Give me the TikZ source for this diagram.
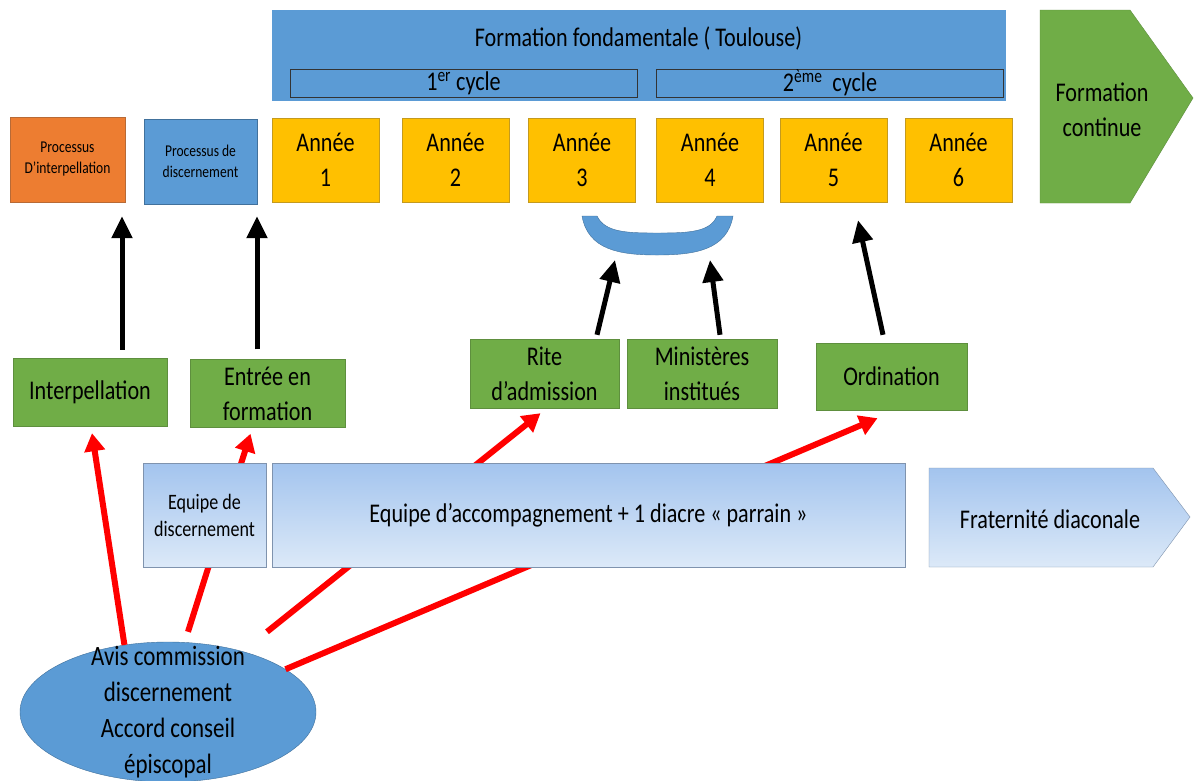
\documentclass[tikz,border=0pt]{standalone}
\usepackage{fontspec}
\setmainfont{Carlito}[FakeStretch=0.82]
\usetikzlibrary{shapes.geometric,arrows.meta,calc}
\definecolor{bleu}{HTML}{5B9BD5}
\definecolor{bleuBord}{HTML}{41719C}
\definecolor{oranj}{HTML}{ED7D31}
\definecolor{oranjBord}{HTML}{B86A36}
\definecolor{jaune}{HTML}{FFC000}
\definecolor{jauneBord}{HTML}{C49A1E}
\definecolor{vert}{HTML}{70AD47}
\definecolor{vertBord}{HTML}{5E8F3E}
\definecolor{ciel}{HTML}{A3C4EE}
\definecolor{cielClair}{HTML}{DCE9F8}
\definecolor{cielBord}{HTML}{7F93AE}
\definecolor{rouge}{HTML}{FF0000}

\begin{document}
\begin{tikzpicture}[x=1pt,y=-1pt]
  \tikzstyle{every node}+=[inner sep=0pt, align=center, font=\fontsize{27}{35}\selectfont]
  \tikzstyle{annee}=[draw=jauneBord, fill=jaune, minimum width=107pt, minimum height=84pt]
  \tikzstyle{vertbox}=[draw=vertBord, fill=vert, minimum height=68pt]
  \tikzstyle{cycle}=[draw=black!80, fill=bleu, minimum width=347pt, minimum height=28pt]
  \tikzstyle{equipe}=[draw=cielBord, top color=ciel, bottom color=cielClair]
  \tikzstyle{noire}=[line width=5pt, -{Triangle[length=22pt,width=20pt]}]
  \tikzstyle{rougeflèche}=[draw=rouge, line width=6pt, -{Triangle[length=18pt,width=20pt]}]
  \useasboundingbox (0,0) rectangle (1194,780);
  \fill[white] (0,0) rectangle (1194,780);

  % formation fondamentale
  \node[draw=bleu, fill=bleu, minimum width=733pt, minimum height=90pt] (fonda) at (638.5,55) {};
  \node (fondatxt) at (638.5,38) {Formation fondamentale ( Toulouse)};
  \node[cycle] (cyc1) at (463.5,83) {1\textsuperscript{er} cycle};
  \node[cycle] (cyc2) at (830,83) {2\textsuperscript{ème}\ \ cycle};

  % processus
  \node[draw=oranjBord, fill=oranj, minimum width=115pt, minimum height=85pt,
        font=\fontsize{16.5}{21}\selectfont] (procint) at (67.5,159.5) {Processus\\D'interpellation};
  \node[draw=bleuBord, fill=bleu, minimum width=113pt, minimum height=85pt,
        font=\fontsize{16.5}{21}\selectfont] (procdis) at (200.5,161.5) {Processus de\\discernement};

  % annees
  \node[annee] (an1) at (325.5,160) {Année\\1};
  \node[annee] (an2) at (455.5,160) {Année\\2};
  \node[annee] (an3) at (582,160) {Année\\3};
  \node[annee] (an4) at (710,160) {Année\\4};
  \node[annee] (an5) at (833.5,160) {Année\\5};
  \node[annee] (an6) at (958.5,160) {Année\\6};

  % formation continue
  \filldraw[fill=vert, draw=vertBord] (1040,10) -- (1130,10) -- (1193,98) -- (1130,203) -- (1040,203) -- cycle;
  \node (fcont) at (1102,110) {Formation\\continue};

  % accolade
  \filldraw[fill=bleu, draw=bleuBord] (582,216) .. controls (588,250) and (620,255) .. (657,255)
    .. controls (695,255) and (727,250) .. (733,216) -- (717,216)
    .. controls (710,232) and (690,233) .. (657,233)
    .. controls (625,233) and (605,232) .. (597,216) -- cycle;
  \coordinate (accolade) at (657,255);

  % etapes
  \node[vertbox, minimum width=154pt] (interp) at (90,392) {Interpellation};
  \node[vertbox, minimum width=155pt] (entree) at (267.5,393.5) {Entrée en\\formation};
  \node[vertbox, minimum width=149pt, minimum height=69pt] (rite) at (544.5,373.5) {Rite\\d'admission};
  \node[vertbox, minimum width=150pt, minimum height=69pt] (minis) at (702,373.5) {Ministères\\institués};
  \node[vertbox, minimum width=151pt, minimum height=67pt] (ordin) at (891.5,376.5) {Ordination};

  \draw[noire] ($(interp.north)+(32,-8)$) -- ($(procint.south)+(54.5,14)$);
  \draw[noire] ($(entree.north)+(-10.5,-10)$) -- ($(procdis.south)+(56.5,12)$);
  \draw[noire] ($(rite.north)+(52.5,-4)$) -- ($(accolade)+(-42,5)$);
  \draw[noire] ($(minis.north)+(18,-4)$) -- ($(accolade)+(53,5)$);
  \draw[noire] ($(ordin.north)+(-8.5,-8)$) -- ($(an5.south)+(24.5,18)$);

  % avis
  \node[ellipse, draw=bleuBord, fill=bleu, minimum width=296pt, minimum height=140pt] (avis) at (168,712) {};
  \node[font=\fontsize{28}{36}\selectfont] (avistxt) at (168,712) {Avis commission\\discernement\\Accord conseil\\épiscopal};

  \draw[rougeflèche] (avis.123) -- ($(interp.south)+(2,7)$);
  \draw[rougeflèche] ($(avis.north)+(20,-10)$) -- ($(entree.south)+(-17,6)$);
  \draw[rougeflèche] ($(avis.north)+(99,-10)$) -- ($(rite.south)+(-4,5)$);
  \draw[rougeflèche] (avis.20) -- ($(ordin.south)+(-14,8)$);

  % equipes
  \node[equipe, minimum width=123pt, minimum height=104pt, font=\fontsize{22}{27}\selectfont] (eqdis) at (204.5,515) {Equipe de\\discernement};
  \node[equipe, minimum width=633pt, minimum height=104pt] (eqacc) at (588.5,515) {Equipe d'accompagnement + 1 diacre « parrain »};
  \shade[top color=ciel, bottom color=cielClair, draw=cielBord] (929,468) -- (1153,468) -- (1190,517) -- (1153,567) -- (929,567) -- cycle;
  \node (frat) at (1050,519) {Fraternité diaconale};
\end{tikzpicture}
\end{document}
